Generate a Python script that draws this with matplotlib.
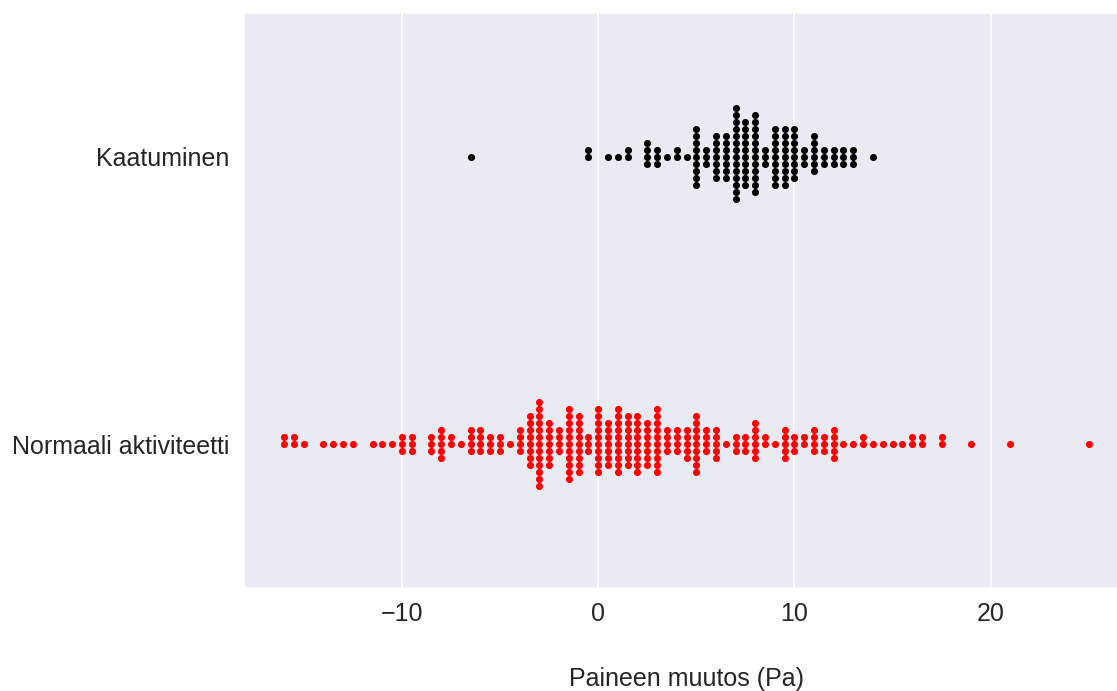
import numpy as np
import matplotlib
matplotlib.use("Agg")
import matplotlib.pyplot as plt
import seaborn as sns

# ---- data (value, count of points at that value) ----
categories = ["Kaatuminen", "Normaali aktiviteetti"]

kaatuminen_values = [-6.5, -0.5, 0.5, 1.0, 1.5, 2.5, 3.0, 3.5, 4.0, 4.5, 5.0, 5.5,
                     6.0, 6.5, 7.0, 7.5, 8.0, 8.5, 9.0, 9.5, 10.0, 10.5, 11.0,
                     11.5, 12.0, 12.5, 13.0, 14.0]
kaatuminen_counts = [1, 2, 1, 1, 2, 4, 3, 1, 2, 1, 9, 3,
                     7, 7, 14, 10, 12, 3, 9, 9, 8, 3, 6,
                     3, 3, 3, 3, 1]

normaali_values = [-16.0, -15.5, -15.0, -14.0, -13.5, -13.0, -12.5, -11.5, -11.0,
                   -10.5, -10.0, -9.5, -8.5, -8.0, -7.5, -7.0, -6.5, -6.0, -5.5,
                   -5.0, -4.5, -4.0, -3.5, -3.0, -2.5, -2.0, -1.5, -1.0, -0.5,
                   0.0, 0.5, 1.0, 1.5, 2.0, 2.5, 3.0, 3.5, 4.0, 4.5, 5.0, 5.5,
                   6.0, 6.5, 7.0, 7.5, 8.0, 8.5, 9.0, 9.5, 10.0, 10.5, 11.0,
                   11.5, 12.0, 12.5, 13.0, 13.5, 14.0, 14.5, 15.0, 15.5, 16.0,
                   16.5, 17.5, 19.0, 21.0, 25.0]
normaali_counts = [2, 2, 1, 1, 1, 1, 1, 1, 1,
                   1, 3, 3, 3, 5, 2, 1, 4, 4, 3,
                   3, 1, 4, 8, 13, 7, 4, 11, 9, 3,
                   10, 7, 10, 8, 9, 7, 10, 4, 4, 5, 9, 4,
                   5, 1, 3, 3, 6, 2, 1, 5, 3, 2, 4,
                   3, 5, 1, 1, 2, 1, 1, 1, 1, 2,
                   2, 2, 1, 1, 1]

colors = ["black", "red"]
x_label = "Paineen muutos (Pa)"

sns.set_theme(style="darkgrid")
plt.rcParams["font.family"] = ["Liberation Sans", "DejaVu Sans"]
plt.rcParams["text.color"] = "#262626"
plt.rcParams["xtick.color"] = "#262626"
plt.rcParams["ytick.color"] = "#262626"
plt.rcParams["axes.labelcolor"] = "#262626"

W, H = 1117, 691
DPI = 100
fig = plt.figure(figsize=(W / DPI, H / DPI), dpi=DPI)
ax = fig.add_axes([244 / W, 1 - 588 / H, (1129 - 244) / W, (588 - 13) / H])
ax.set_ylim(1.5, -0.5)

# swarm layout: points with equal value stacked alternately around the centre
marker_pt = 5.1
spacing_px = 7.0
dy = spacing_px / (ax.bbox.height / 2.0)


def swarm_offsets(n):
    offs = [0.0]
    k = 1
    while len(offs) < n:
        offs.append(-k * dy)
        if len(offs) < n:
            offs.append(k * dy)
        k += 1
    return np.array(offs)


groups = [(kaatuminen_values, kaatuminen_counts), (normaali_values, normaali_counts)]
for gi, (vals, cnts) in enumerate(groups):
    xs, ys = [], []
    for v, c in zip(vals, cnts):
        xs.extend([v] * c)
        ys.extend(gi + swarm_offsets(c))
    ax.scatter(xs, ys, s=marker_pt ** 2, color=colors[gi], linewidths=0, zorder=3)

ax.set_xlim(-16 - 0.05 * 41, 25 + 0.05 * 41)
ax.set_ylim(1.5, -0.5)
ax.set_yticks([0, 1], categories)
ax.set_xlabel(x_label, fontsize=18, labelpad=30)
ax.set_xticks([-10, 0, 10, 20])
ax.tick_params(axis="x", labelsize=18, pad=3.8)
ax.tick_params(axis="y", labelsize=18, pad=4.3)
ax.grid(True, axis="x", color="white", linewidth=1.1)
ax.grid(False, axis="y")

fig.savefig("out.png", dpi=DPI)
